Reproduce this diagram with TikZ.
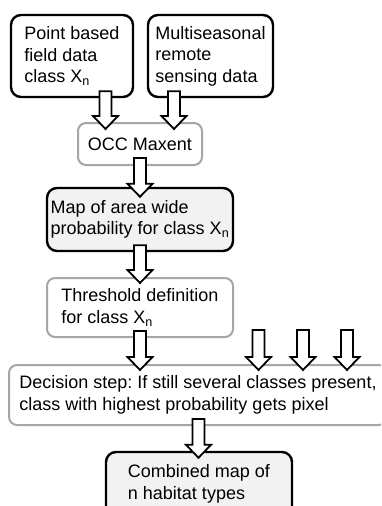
\documentclass[tikz,border=0pt]{standalone}
\usepackage{fontspec}
\setmainfont{Liberation Sans}
\usetikzlibrary{calc}
\frenchspacing

\definecolor{boxgray}{HTML}{A6A6A6}
\definecolor{mapfill}{HTML}{F2F2F2}

% hollow block arrow running straight down from the x/y of #1 to the y of #2
\newcommand\blockarrow[2]{%
  \draw[blockarrow] let \p1=(#1), \p2=(#2) in
    (\x1-6pt,\y1) -- (\x1+6pt,\y1) -- (\x1+6pt,\y2+13pt) -- (\x1+12.5pt,\y2+13pt)
    -- (\x1,\y2) -- (\x1-12.5pt,\y2+13pt) -- (\x1-6pt,\y2+13pt) -- cycle;}

\begin{document}
\begin{tikzpicture}[x=1pt,y=-1pt,
  basebox/.style={rectangle, inner sep=0pt, align=left,
    font=\fontsize{18}{21.5}\selectfont\frenchspacing},
  inputbox/.style={basebox, draw=black, line width=2.4pt, rounded corners=10pt, fill=white},
  stepbox/.style={basebox, draw=boxgray, line width=2pt, rounded corners=8pt, fill=white},
  mapbox/.style={basebox, draw=black, line width=2.4pt, rounded corners=10pt, fill=mapfill},
  blockarrow/.style={draw=black, fill=white, line width=1.8pt}]

\useasboundingbox (0,0) rectangle (381,506);
\clip (0,0) rectangle (381,506);

% boxes
\node[inputbox, minimum width=122pt, minimum height=82pt] (pf) at (72,56)
  {Point based\\field data\\class X\textsubscript{n}};
\node[inputbox, minimum width=125pt, minimum height=82pt] (rs) at (210.5,56)
  {Multiseasonal\\remote\\sensing data};
\node[stepbox, minimum width=124pt, minimum height=42pt] (occ) at (140,144)
  {OCC Maxent};
\node[mapbox, minimum width=186pt, minimum height=63pt] (map) at (140,219.5)
  {Map of area wide\\probability for class X\textsubscript{n}};
\node[stepbox, minimum width=186pt, minimum height=59pt] (thr) at (140,307.5)
  {Threshold definition\\for class X\textsubscript{n}};
\node[stepbox, minimum width=378pt, minimum height=60pt] (dec) at (198,395)
  {Decision step: If still several classes present,\\class with highest probability gets pixel};
\node[mapbox, minimum width=186pt, minimum height=64pt] (comb) at (199,484)
  {Combined map of\\n habitat types};

% arrow ends
\coordinate (a1s) at ([xshift=33.5pt,yshift=7pt]pf.south);
\coordinate (a2s) at ([xshift=-36.5pt,yshift=7pt]rs.south);
\coordinate (a3s) at ([yshift=8pt]occ.south);
\coordinate (a4s) at ([yshift=7pt]map.south);
\coordinate (a5s) at ([yshift=7pt]thr.south);
\coordinate (in2) at (258.5,330);
\coordinate (in3) at (303,330);
\coordinate (in4) at (347,330);
\coordinate (a9s) at ([xshift=0.5pt,yshift=7pt]dec.south);

% block arrows
\blockarrow{a1s}{$(occ.north)+(0,7)$}
\blockarrow{a2s}{$(occ.north)+(0,7)$}
\blockarrow{a3s}{$(map.north)+(0,10)$}
\blockarrow{a4s}{$(thr.north)+(0,6)$}
\blockarrow{a5s}{$(dec.north)+(0,6)$}
\blockarrow{in2}{$(dec.north)+(0,6)$}
\blockarrow{in3}{$(dec.north)+(0,6)$}
\blockarrow{in4}{$(dec.north)+(0,6)$}
\blockarrow{a9s}{$(comb.north)+(0,7)$}
\end{tikzpicture}
\end{document}
